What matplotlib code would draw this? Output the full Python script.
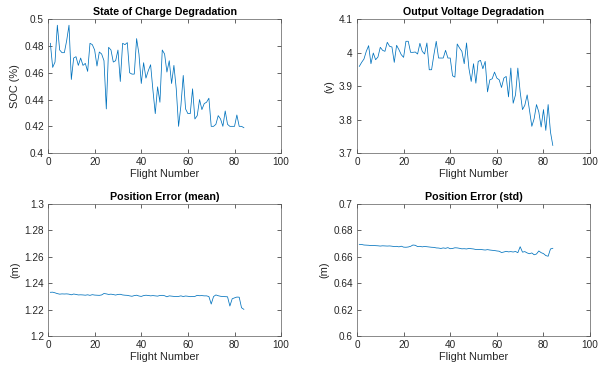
import numpy as np
import matplotlib
matplotlib.use("Agg")
import matplotlib.pyplot as plt
from matplotlib.ticker import FormatStrFormatter

plt.rcParams['font.family'] = ['Liberation Sans', 'DejaVu Sans']

# flight index
flights = list(range(1, 85))

soc = [0.482, 0.464, 0.468, 0.4955, 0.477, 0.475, 0.475, 0.484, 0.4955, 0.455,
       0.471, 0.472, 0.4655, 0.471, 0.4655, 0.467, 0.461, 0.482, 0.481, 0.477,
       0.465, 0.4755, 0.474, 0.469, 0.433, 0.479, 0.477, 0.468, 0.469, 0.477,
       0.4535, 0.482, 0.481, 0.4825, 0.460, 0.459, 0.459, 0.4855, 0.474, 0.452,
       0.4675, 0.456, 0.4615, 0.466, 0.447, 0.4295, 0.4495, 0.438, 0.477, 0.474,
       0.4605, 0.469, 0.452, 0.4655, 0.448, 0.420, 0.4355, 0.458, 0.433, 0.4295,
       0.4295, 0.448, 0.4255, 0.428, 0.440, 0.4325, 0.437, 0.438, 0.441, 0.420,
       0.420, 0.4215, 0.428, 0.4255, 0.420, 0.4315, 0.4215, 0.420, 0.420, 0.420,
       0.4285, 0.420, 0.420, 0.419]

voltage = [3.959, 3.971, 3.981, 4.004, 4.021, 3.967, 3.999, 3.979, 3.987, 4.016,
           4.007, 4.004, 4.031, 4.019, 4.017, 3.971, 4.022, 4.009, 3.994, 3.986,
           4.034, 4.034, 4.001, 4.001, 4.002, 3.996, 4.028, 4.004, 3.996, 4.029,
           3.949, 3.949, 3.994, 4.034, 3.984, 3.984, 3.984, 4.007, 3.984, 3.984,
           3.931, 3.927, 4.026, 4.014, 4.004, 3.967, 4.029, 3.954, 3.914, 3.967,
           3.909, 3.974, 3.977, 3.952, 3.974, 3.883, 3.919, 3.922, 3.942, 3.924,
           3.919, 3.896, 3.924, 3.929, 3.868, 3.954, 3.849, 3.874, 3.954, 3.883,
           3.830, 3.843, 3.874, 3.828, 3.780, 3.803, 3.845, 3.823, 3.778, 3.830,
           3.768, 3.845, 3.763, 3.723]

pos_mean = [1.2332, 1.2333, 1.2328, 1.2322, 1.2318, 1.2320, 1.2319, 1.2320, 1.2318, 1.2313,
            1.2319, 1.2316, 1.2312, 1.2313, 1.2312, 1.2310, 1.2313, 1.2309, 1.2314, 1.2311,
            1.2310, 1.2309, 1.2312, 1.2323, 1.2320, 1.2316, 1.2318, 1.2315, 1.2311, 1.2316,
            1.2317, 1.2312, 1.2310, 1.2309, 1.2305, 1.2302, 1.2307, 1.2310, 1.2304, 1.2301,
            1.2307, 1.2310, 1.2308, 1.2305, 1.2307, 1.2305, 1.2303, 1.2308, 1.2309, 1.2306,
            1.2298, 1.2305, 1.2303, 1.2301, 1.2300, 1.2301, 1.2305, 1.2300, 1.2304, 1.2302,
            1.2299, 1.2300, 1.2301, 1.2309, 1.2306, 1.2307, 1.2305, 1.2305, 1.2300, 1.2243,
            1.2300, 1.2312, 1.2306, 1.2302, 1.2300, 1.2299, 1.2298, 1.2228, 1.2283, 1.2290,
            1.2296, 1.2295, 1.2215, 1.2203]

pos_std = [0.6695, 0.6694, 0.6690, 0.6689, 0.6688, 0.6686, 0.6687, 0.6685, 0.6684, 0.6682,
           0.6684, 0.6683, 0.6682, 0.6683, 0.6681, 0.6678, 0.6680, 0.6676, 0.6681, 0.6674,
           0.6673, 0.6675, 0.6680, 0.6690, 0.6688, 0.6678, 0.6680, 0.6676, 0.6679, 0.6677,
           0.6675, 0.6673, 0.6672, 0.6668, 0.6667, 0.6664, 0.6668, 0.6665, 0.6670, 0.6662,
           0.6664, 0.6669, 0.6668, 0.6665, 0.6661, 0.6662, 0.6660, 0.6664, 0.6662, 0.6660,
           0.6656, 0.6655, 0.6657, 0.6654, 0.6652, 0.6655, 0.6652, 0.6650, 0.6648, 0.6645,
           0.6643, 0.6633, 0.6637, 0.6642, 0.6638, 0.6640, 0.6637, 0.6641, 0.6632, 0.6677,
           0.6636, 0.6640, 0.6630, 0.6624, 0.6630, 0.6616, 0.6622, 0.6645, 0.6632, 0.6625,
           0.6610, 0.6605, 0.6660, 0.6665]

titles = ["State of Charge Degradation", "Output Voltage Degradation",
          "Position Error (mean)", "Position Error (std)"]
ylabels = ["SOC (%)", "(v)", "(m)", "(m)"]
ylims = [(0.4, 0.5), (3.7, 4.1), (1.2, 1.3), (0.6, 0.7)]
yticks = [[0.4, 0.42, 0.44, 0.46, 0.48, 0.5],
          [3.7, 3.8, 3.9, 4.0, 4.1],
          [1.2, 1.22, 1.24, 1.26, 1.28, 1.3],
          [0.6, 0.62, 0.64, 0.66, 0.68, 0.7]]
series = [soc, voltage, pos_mean, pos_std]

fig = plt.figure(figsize=(6.04, 3.69), dpi=100)
boxes = [[0.0795, 0.585, 0.386, 0.363],
         [0.591, 0.585, 0.386, 0.363],
         [0.0795, 0.089, 0.386, 0.358],
         [0.591, 0.089, 0.386, 0.358]]

txt = '#262626'
for i in range(4):
    ax = fig.add_axes(boxes[i])
    ax.plot(flights, series[i], color='#0072BD', linewidth=0.55)
    ax.set_xlim(0, 100)
    ax.set_ylim(ylims[i])
    ax.set_xticks([0, 20, 40, 60, 80, 100])
    ax.set_yticks(yticks[i])
    ax.yaxis.set_major_formatter(FormatStrFormatter('%g'))
    ax.tick_params(direction='in', length=3, width=0.5, top=True, right=True,
                   labelsize=7.2, colors=txt, pad=3)
    for s in ax.spines.values():
        s.set_linewidth(0.5)
        s.set_color('#5a5a5a')
    ax.set_title(titles[i], fontsize=7.7, fontweight='bold', color='black', pad=3)
    ax.set_xlabel("Flight Number", fontsize=7.9, color=txt, labelpad=1.5)
    ax.set_ylabel(ylabels[i], fontsize=7.9, color=txt, labelpad=3)

fig.savefig("out.png", dpi=100)
